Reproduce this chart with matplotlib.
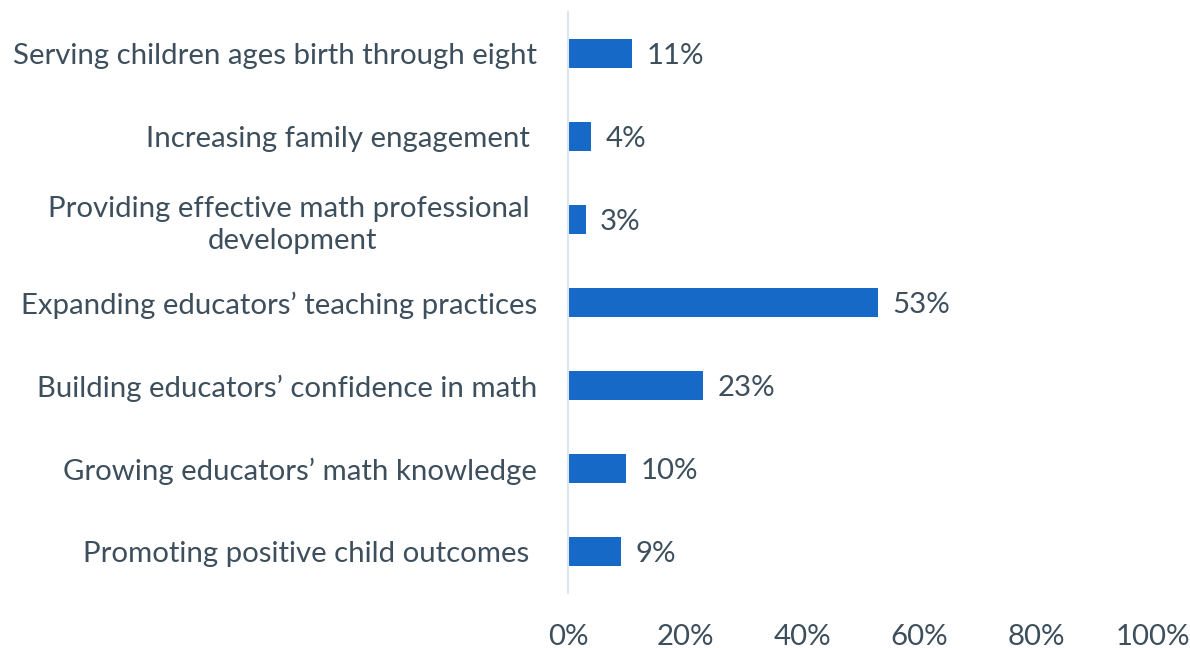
import matplotlib
matplotlib.use("Agg")
import matplotlib.pyplot as plt

plt.rcParams['font.family'] = ['Lato', 'DejaVu Sans']

categories = [
    "Serving children ages birth through eight",
    "Increasing family engagement ",
    "Providing effective math professional \ndevelopment",
    "Expanding educators\u2019 teaching practices",
    "Building educators\u2019 confidence in math",
    "Growing educators\u2019 math knowledge",
    "Promoting positive child outcomes ",
]
values = [11, 4, 3, 53, 23, 10, 9]
xticks = [0, 20, 40, 60, 80, 100]

txt = '#3d4f5c'
bar_col = '#1769c7'
fs = 21.2

fig = plt.figure(figsize=(11.9, 6.48), dpi=100)
ax = fig.add_axes([0.4773, 0.0849, 0.9689 - 0.4773, 0.9815 - 0.0849])

ypos = list(range(len(categories)))
ax.barh(ypos, values, height=0.36, color=bar_col, left=0)
ax.set_ylim(len(categories) - 0.5, -0.5)
ax.set_xlim(0, 100)

for y, v in zip(ypos, values):
    ax.text(v + 2.5, y, f"{v}%", va='center_baseline', ha='left', fontsize=fs, color=txt)

ax.set_yticks(ypos)
ax.set_yticklabels(categories, fontsize=fs, color=txt, linespacing=1.3,
                   multialignment='center')
ax.set_xticks(xticks)
ax.set_xticklabels([f"{t}%" for t in xticks], fontsize=fs, color=txt)
ax.tick_params(axis='y', length=0, pad=31 * 72 / 100)
ax.tick_params(axis='x', length=0, pad=22)

for s in ['top', 'right', 'bottom']:
    ax.spines[s].set_visible(False)
ax.spines['left'].set_color('#dde5f0')
ax.spines['left'].set_linewidth(1.5)

fig.savefig("out.png", dpi=100)
